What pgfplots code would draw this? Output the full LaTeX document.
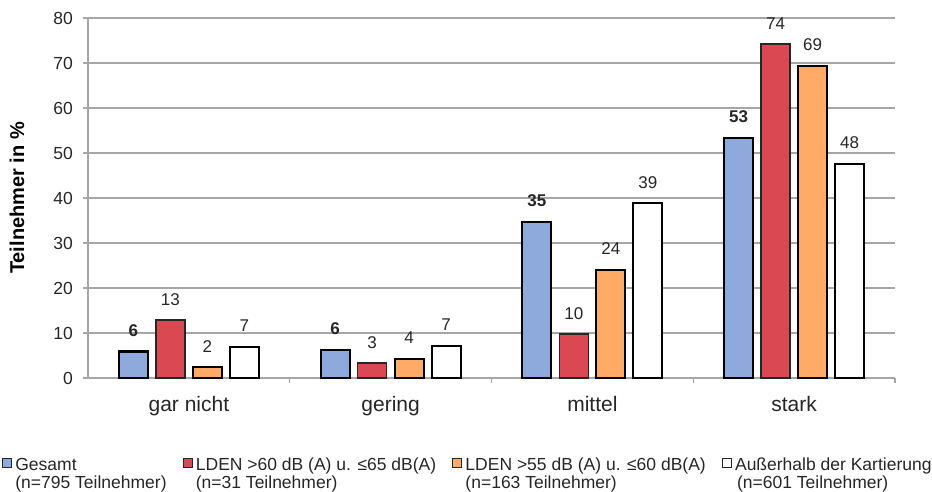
\documentclass[border=0pt]{standalone}
\usepackage{fontspec}
\setmainfont{Liberation Sans}
\usepackage{pgfplots}
\usepackage{pgfplotstable}
\pgfplotsset{compat=1.18}
\definecolor{cblue}{RGB}{142,169,219}
\definecolor{cred}{RGB}{218,72,82}
\definecolor{corange}{RGB}{255,170,102}
\definecolor{cgrid}{RGB}{166,166,166}
\definecolor{ctext}{RGB}{38,38,38}

\pgfplotstableread{
x y lab
0 5.9 6
1 6.2 6
2 34.7 35
3 53.3 53
}\tgesamt
\pgfplotstableread{
x y lab
0 12.9 13
1 3.3 3
2 9.8 10
3 74.2 74
}\tsixty
\pgfplotstableread{
x y lab
0 2.4 2
1 4.2 4
2 24.0 24
3 69.4 69
}\tfiftyfive
\pgfplotstableread{
x y lab
0 6.9 7
1 7.1 7
2 38.8 39
3 47.6 48
}\taussen

\begin{document}
\begin{tikzpicture}
\useasboundingbox (0,0) rectangle (932pt,492pt);
\begin{axis}[
  at={(88pt,114pt)}, anchor=south west,
  scale only axis, width=807pt, height=360pt,
  xmin=-0.5, xmax=3.5, ymin=0, ymax=80,
  clip=false,
  ybar=8pt, bar width=29pt,
  axis x line*=bottom, axis y line*=left,
  axis line style={draw=cgrid, line width=1.2pt},
  ytick={0,10,...,80},
  ymajorgrids, grid style={draw=cgrid, line width=1.2pt},
  tick align=outside, major tick length=5pt,
  tick style={draw=cgrid, line width=1.2pt},
  xtick={0.5,1.5,2.5,3.5}, xticklabels={},
  extra x ticks={0,1,2,3},
  extra x tick labels={gar nicht, gering, mittel, stark},
  extra x tick style={major tick length=0pt, grid=none},
  xticklabel style={font=\fontsize{21}{24}\selectfont, text=ctext, inner sep=0pt, yshift=-18pt},
  yticklabel style={font=\fontsize{17.5}{20}\selectfont, text=ctext, inner sep=0pt, xshift=-10pt},
  /pgf/number format/assume math mode=true,
  ylabel={\bfseries Teilnehmer in \%},
  ylabel style={at={(axis description cs:-0.088,0.5)}, anchor=center, rotate=0, font=\fontsize{20}{22}\selectfont, text=black},
  nodes near coords, point meta=explicit symbolic,
  nodes near coords style={font=\fontsize{17}{20}\selectfont, text=ctext, anchor=south, inner sep=0pt, yshift=14pt},
  legend columns=4,
  legend cell align=left,
  legend image code/.code={\draw[#1, line width=1.3pt, draw=black!85] (0pt,-3pt) rectangle (9pt,6pt);},
  legend style={at={(-0.1065,-0.2214)}, anchor=north west, draw=none, fill=none,
    inner sep=0pt, outer sep=0pt, text=ctext,
    font=\fontsize{17.5}{18}\selectfont, nodes={inner sep=0pt},
    /tikz/every even column/.append style={column sep=16pt},
    /tikz/every odd column/.append style={column sep=3pt}},
]
\addplot[fill=cblue, draw=black, line width=2.2pt, every node near coord/.append style={font=\fontsize{17}{20}\selectfont\bfseries}] table[x=x, y=y, meta=lab] {\tgesamt};
\addlegendentry{\begin{tabular}[t]{@{}l@{}}Gesamt\\(n=795 Teilnehmer)\end{tabular}}
\addplot[fill=cred, draw=black!85, line width=1.3pt] table[x=x, y=y, meta=lab] {\tsixty};
\addlegendentry{\begin{tabular}[t]{@{}l@{}}LDEN >60 dB (A) u. ≤65 dB(A)\\(n=31 Teilnehmer)\end{tabular}}
\addplot[fill=corange, draw=black, line width=2.2pt] table[x=x, y=y, meta=lab] {\tfiftyfive};
\addlegendentry{\begin{tabular}[t]{@{}l@{}}LDEN >55 dB (A) u. ≤60 dB(A)\\(n=163 Teilnehmer)\end{tabular}}
\addplot[fill=white, draw=black, line width=2.2pt] table[x=x, y=y, meta=lab] {\taussen};
\addlegendentry{\begin{tabular}[t]{@{}l@{}}Außerhalb der Kartierung\\\hspace{2pt}(n=601 Teilnehmer)\end{tabular}}
\end{axis}
\end{tikzpicture}
\end{document}
